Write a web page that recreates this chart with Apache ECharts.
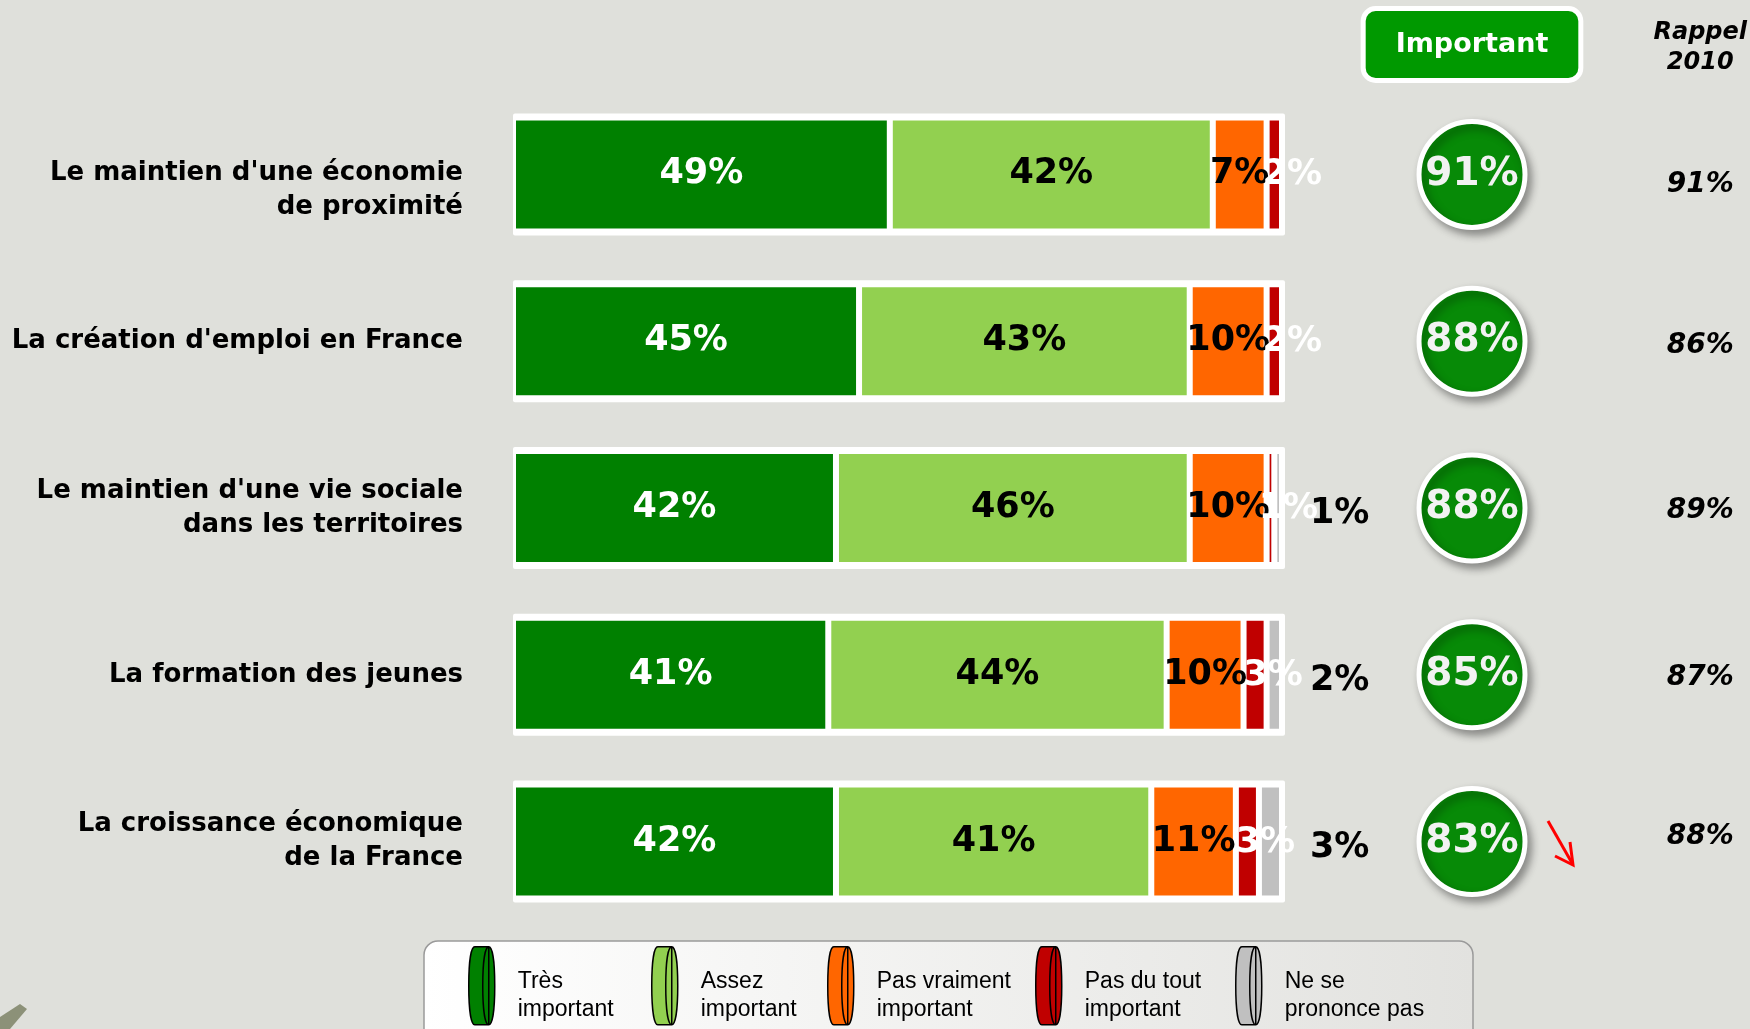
<!DOCTYPE html>
<html><head><meta charset="utf-8">
<script src="https://cdn.jsdelivr.net/npm/echarts@6/dist/echarts.min.js"></script>
<style>html,body{margin:0;padding:0;background:#dfe0db;} #c{width:1750px;height:1029px;}</style>
</head><body><div id="c"></div>
<script>
// ---------- DATA ----------
const categories = [
  "Le maintien d'une économie\nde proximité",
  "La création d'emploi en France",
  "Le maintien d'une vie sociale\ndans les territoires",
  "La formation des jeunes",
  "La croissance économique\nde la France"
];
const seriesNames = ["Très\nimportant", "Assez\nimportant", "Pas vraiment\nimportant", "Pas du tout\nimportant", "Ne se\nprononce pas"];
const tresImportant  = [49, 45, 42, 41, 42];
const assezImportant = [42, 43, 46, 44, 41];
const pasVraiment    = [7, 10, 10, 10, 11];
const pasDuTout      = [2, 2, 1, 3, 3];
const nsp            = [0, 0, 1, 2, 3];
const important      = [91, 88, 88, 85, 83];
const rappel2010     = [91, 86, 89, 87, 88];
const columns = ["Important", "Rappel 2010"];

// ---------- STYLE / LAYOUT ----------
const colors = ['#008000', '#92d050', '#ff6600', '#c00000', '#c0c0c0'];
const labelColors = ['#fff', '#000', '#000', '#fff', '#000'];
const FONT = "'DejaVu Sans', Verdana, sans-serif";
const values = [tresImportant, assezImportant, pasVraiment, pasDuTout, nsp];
const totals = categories.map((c, i) => values.reduce((s, arr) => s + arr[i], 0));
const legendLefts = [468, 651, 827, 1035, 1235];
const rappelOffsets = [10, 5, 3, 3, -5];

const chart = echarts.init(document.getElementById('c'), null, {renderer: 'canvas'});

const barSeries = values.map((arr, k) => {
  const label = {
    show: true, position: 'inside', color: labelColors[k],
    fontFamily: FONT, fontWeight: 'bold', fontSize: 35,
    formatter: p => p.value > 0 ? p.value + '%' : ''
  };
  if (k === 3) label.offset = [18, 1];
  if (k === 4) { label.position = 'right'; label.distance = 28; label.offset = [0, 6]; }
  return {
    name: seriesNames[k], type: 'bar', stack: 'total', barWidth: 114,
    xAxisIndex: 0, yAxisIndex: 0, z: 3,
    itemStyle: {color: colors[k], borderColor: '#fff', borderWidth: 3},
    label: label,
    data: arr
  };
});

const option = {
  backgroundColor: '#dfe0db',
  animation: false,
  grid: [
    {left: 513, width: 769, top: 91, height: 834},
    {left: 1472, width: 228, top: 91, height: 834}
  ],
  xAxis: [
    {type: 'value', gridIndex: 0, min: 0, max: 100, show: false},
    {type: 'category', gridIndex: 1, data: columns, position: 'top', boundaryGap: false,
      axisLine: {show: false}, axisTick: {show: false}, splitLine: {show: false},
      axisLabel: {
        margin: 13, interval: 0,
        formatter: v => v === columns[0] ? '{imp|' + v + '}' : '{rap|' + v.replace(' ', '\n') + '}',
        rich: {
          imp: {backgroundColor: '#009900', borderColor: '#fff', borderWidth: 5, borderRadius: 10,
            color: '#fff', fontFamily: FONT, fontSize: 27, fontWeight: 'bold', padding: [20, 30, 20, 30]},
          rap: {color: '#000', fontFamily: FONT, fontSize: 24, fontWeight: 'bold', fontStyle: 'italic',
            lineHeight: 30, align: 'center', padding: [0, 0, 0, 16]}
        }
      }}
  ],
  yAxis: [
    {type: 'category', gridIndex: 0, inverse: true, data: categories,
      axisLine: {show: false}, axisTick: {show: false}, splitLine: {show: false},
      axisLabel: {fontFamily: FONT, fontSize: 26, fontWeight: 'bold', color: '#000', lineHeight: 34, margin: 50, align: 'right',
        formatter: (v, i) => i === 0 ? '{s|}\n' + v : v,
        rich: {s: {lineHeight: 32, height: 32, fontSize: 10}}}},
    {type: 'category', gridIndex: 1, inverse: true, data: categories, show: false}
  ],
  legend: seriesNames.map((n, k) => ({
    data: [n], left: legendLefts[k], top: 946, padding: 0, orient: 'horizontal',
    selectedMode: false, itemWidth: 26, itemHeight: 78,
    icon: 'path://M6,0 L20,0 C24,0 26,17 26,39 C26,61 24,78 20,78 L6,78 C2,78 0,61 0,39 C0,17 2,0 6,0 Z M20,78 C16,78 14,61 14,39 C14,17 16,0 20,0 Z',
    itemStyle: {borderColor: '#000', borderWidth: 1.5},
    formatter: name => '{s|}\n' + name,
    textStyle: {fontFamily: "'Liberation Sans', Arial, sans-serif", fontSize: 23, color: '#000', lineHeight: 28, padding: [0, 0, 0, 18],
      rich: {s: {lineHeight: 20, height: 20, fontSize: 10}}}
  })),
  graphic: [
    {type: 'rect', z: 1, shape: {x: 424, y: 941, width: 1049, height: 130, r: 14},
      style: {fill: new echarts.graphic.LinearGradient(0, 0, 1, 0, [{offset: 0, color: '#ffffff'}, {offset: 1, color: '#e2e2df'}]),
        stroke: '#9a9a9a', lineWidth: 1.5}},
    {type: 'group', z: 10, children: [
      {type: 'line', shape: {x1: 1548, y1: 821, x2: 1572, y2: 863}, style: {stroke: '#ff0000', lineWidth: 3}},
      {type: 'polyline', shape: {points: [[1570, 842], [1573, 865], [1555, 856]]}, style: {stroke: '#ff0000', lineWidth: 3, fill: null}}
    ]},
    {type: 'polygon', z: 1, shape: {points: [[0, 1017], [20, 1004], [27, 1009], [10, 1029], [0, 1029]]}, style: {fill: '#8c9178'}}
  ],
  series: [
    {type: 'custom', xAxisIndex: 0, yAxisIndex: 0, z: 2, silent: true,
      data: totals.map((t, i) => [t, i]),
      encode: {x: 0, y: 1},
      renderItem: (params, api) => {
        const y = api.value(1);
        const p0 = api.coord([0, y]);
        const p1 = api.coord([api.value(0), y]);
        const h = 122;
        return {type: 'rect', shape: {x: p0[0], y: p0[1] - h / 2, width: p1[0] - p0[0] + 3, height: h, r: 2},
          style: {fill: '#ffffff'}};
      }},
    ...barSeries,
    {name: columns[0], type: 'scatter', xAxisIndex: 1, yAxisIndex: 1, z: 5, clip: false,
      symbolSize: 106,
      itemStyle: {color: '#078a07', opacity: 1, borderColor: '#fff', borderWidth: 5,
        shadowBlur: 8, shadowOffsetX: 4, shadowOffsetY: 5, shadowColor: 'rgba(0,0,0,0.35)'},
      label: {show: true, position: 'inside', color: '#f2f2f2', fontFamily: FONT, fontWeight: 'bold', fontSize: 39,
        formatter: p => p.value[2] + '%'},
      data: important.map((v, i) => [columns[0], i, v])},
    {name: columns[1], type: 'scatter', xAxisIndex: 1, yAxisIndex: 1, z: 5, clip: false,
      symbolSize: 1, itemStyle: {color: '#dfe0db', opacity: 1},
      data: rappel2010.map((v, i) => ({
        value: [columns[1], i, v],
        label: {show: true, position: 'inside', color: '#000', fontFamily: FONT, fontWeight: 'bold', fontStyle: 'italic', fontSize: 28,
          offset: [8, rappelOffsets[i]], formatter: p => p.value[2] + '%'}
      }))}
  ]
};
chart.setOption(option);
</script>
</body></html>
